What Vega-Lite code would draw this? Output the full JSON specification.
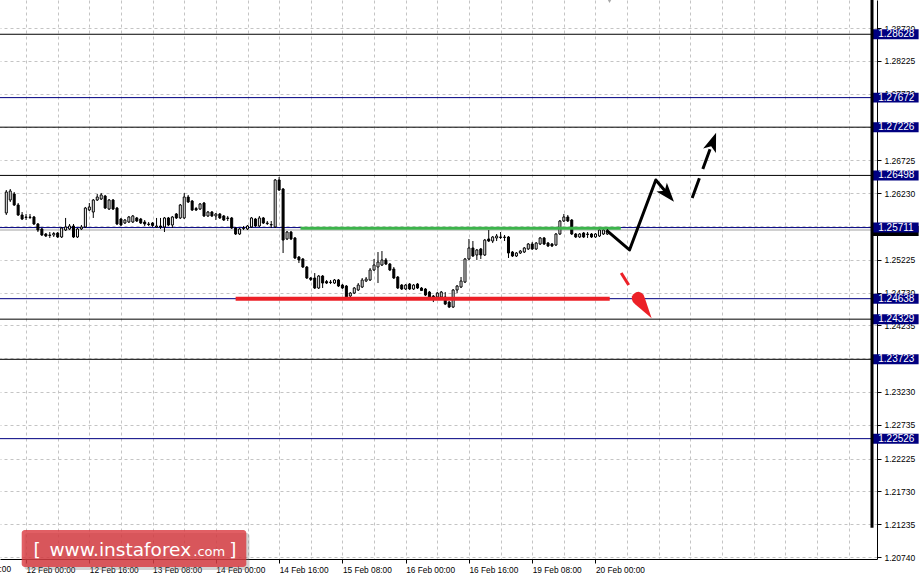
{
"$schema":"https://vega.github.io/schema/vega-lite/v6.json",
"width":877,"height":559,
"autosize":{"type":"none"},
"padding":{"left":0,"top":0,"right":45,"bottom":22},
"background":"white",
"config":{"view":{"stroke":null},"font":"Liberation Sans"},
"resolve":{"axis":{"x":"independent","y":"independent"}},
"datasets":{
"candles":[
{"i":0,"o":1.25931,"h":1.26278,"l":1.25901,"c":1.26248},
{"i":1,"o":1.26127,"h":1.26293,"l":1.26097,"c":1.26263},
{"i":2,"o":1.26218,"h":1.26248,"l":1.26037,"c":1.26052},
{"i":3,"o":1.26052,"h":1.26082,"l":1.25886,"c":1.25901},
{"i":4,"o":1.25901,"h":1.25946,"l":1.25825,"c":1.25840},
{"i":5,"o":1.25871,"h":1.25916,"l":1.25825,"c":1.25863},
{"i":6,"o":1.25863,"h":1.25916,"l":1.25840,"c":1.25871},
{"i":7,"o":1.25871,"h":1.25886,"l":1.25750,"c":1.25765},
{"i":8,"o":1.25765,"h":1.25780,"l":1.25644,"c":1.25674},
{"i":9,"o":1.25690,"h":1.25705,"l":1.25584,"c":1.25599},
{"i":10,"o":1.25614,"h":1.25629,"l":1.25569,"c":1.25584},
{"i":11,"o":1.25599,"h":1.25644,"l":1.25554,"c":1.25592},
{"i":12,"o":1.25599,"h":1.25644,"l":1.25569,"c":1.25622},
{"i":13,"o":1.25629,"h":1.25644,"l":1.25554,"c":1.25569},
{"i":14,"o":1.25569,"h":1.25720,"l":1.25554,"c":1.25705},
{"i":15,"o":1.25674,"h":1.25856,"l":1.25659,"c":1.25720},
{"i":16,"o":1.25690,"h":1.25765,"l":1.25674,"c":1.25735},
{"i":17,"o":1.25735,"h":1.25765,"l":1.25554,"c":1.25569},
{"i":18,"o":1.25569,"h":1.25705,"l":1.25554,"c":1.25690},
{"i":19,"o":1.25690,"h":1.25750,"l":1.25674,"c":1.25720},
{"i":20,"o":1.25720,"h":1.26022,"l":1.25705,"c":1.26006},
{"i":21,"o":1.25976,"h":1.26082,"l":1.25961,"c":1.26022},
{"i":22,"o":1.25946,"h":1.26142,"l":1.25856,"c":1.26127},
{"i":23,"o":1.26127,"h":1.26218,"l":1.26112,"c":1.26172},
{"i":24,"o":1.26142,"h":1.26233,"l":1.26127,"c":1.26203},
{"i":25,"o":1.26187,"h":1.26203,"l":1.25991,"c":1.26006},
{"i":26,"o":1.25991,"h":1.26142,"l":1.25976,"c":1.26127},
{"i":27,"o":1.26127,"h":1.26142,"l":1.25976,"c":1.25991},
{"i":28,"o":1.26006,"h":1.26022,"l":1.25750,"c":1.25765},
{"i":29,"o":1.25840,"h":1.25856,"l":1.25735,"c":1.25750},
{"i":30,"o":1.25780,"h":1.25840,"l":1.25765,"c":1.25825},
{"i":31,"o":1.25795,"h":1.25886,"l":1.25780,"c":1.25871},
{"i":32,"o":1.25795,"h":1.25901,"l":1.25780,"c":1.25886},
{"i":33,"o":1.25856,"h":1.25871,"l":1.25795,"c":1.25810},
{"i":34,"o":1.25840,"h":1.25856,"l":1.25765,"c":1.25780},
{"i":35,"o":1.25795,"h":1.25825,"l":1.25735,"c":1.25765},
{"i":36,"o":1.25765,"h":1.25795,"l":1.25735,"c":1.25757},
{"i":37,"o":1.25780,"h":1.25795,"l":1.25720,"c":1.25742},
{"i":38,"o":1.25720,"h":1.25856,"l":1.25705,"c":1.25735},
{"i":39,"o":1.25735,"h":1.25856,"l":1.25690,"c":1.25720},
{"i":40,"o":1.25720,"h":1.25871,"l":1.25644,"c":1.25856},
{"i":41,"o":1.25856,"h":1.25871,"l":1.25735,"c":1.25750},
{"i":42,"o":1.25750,"h":1.25886,"l":1.25705,"c":1.25871},
{"i":43,"o":1.25916,"h":1.25931,"l":1.25840,"c":1.25856},
{"i":44,"o":1.25856,"h":1.26067,"l":1.25840,"c":1.26052},
{"i":45,"o":1.25856,"h":1.26233,"l":1.25840,"c":1.26172},
{"i":46,"o":1.26172,"h":1.26203,"l":1.26082,"c":1.26097},
{"i":47,"o":1.26112,"h":1.26127,"l":1.25961,"c":1.25976},
{"i":48,"o":1.25999,"h":1.26022,"l":1.25961,"c":1.25976},
{"i":49,"o":1.25991,"h":1.26082,"l":1.25976,"c":1.26067},
{"i":50,"o":1.26082,"h":1.26097,"l":1.25871,"c":1.25886},
{"i":51,"o":1.25886,"h":1.25961,"l":1.25871,"c":1.25946},
{"i":52,"o":1.25946,"h":1.25961,"l":1.25871,"c":1.25886},
{"i":53,"o":1.25886,"h":1.25931,"l":1.25825,"c":1.25916},
{"i":54,"o":1.25916,"h":1.25931,"l":1.25840,"c":1.25856},
{"i":55,"o":1.25886,"h":1.25901,"l":1.25810,"c":1.25825},
{"i":56,"o":1.25856,"h":1.25886,"l":1.25810,"c":1.25848},
{"i":57,"o":1.25856,"h":1.25871,"l":1.25690,"c":1.25705},
{"i":58,"o":1.25705,"h":1.25720,"l":1.25599,"c":1.25614},
{"i":59,"o":1.25614,"h":1.25705,"l":1.25599,"c":1.25690},
{"i":60,"o":1.25697,"h":1.25735,"l":1.25674,"c":1.25705},
{"i":61,"o":1.25690,"h":1.25750,"l":1.25674,"c":1.25735},
{"i":62,"o":1.25720,"h":1.25871,"l":1.25705,"c":1.25856},
{"i":63,"o":1.25840,"h":1.25856,"l":1.25720,"c":1.25735},
{"i":64,"o":1.25735,"h":1.25886,"l":1.25720,"c":1.25856},
{"i":65,"o":1.25856,"h":1.25871,"l":1.25765,"c":1.25780},
{"i":66,"o":1.25780,"h":1.25810,"l":1.25750,"c":1.25772},
{"i":67,"o":1.25750,"h":1.25810,"l":1.25705,"c":1.25757},
{"i":68,"o":1.25720,"h":1.26444,"l":1.25705,"c":1.26429},
{"i":69,"o":1.26429,"h":1.26474,"l":1.26263,"c":1.26278},
{"i":70,"o":1.26293,"h":1.26308,"l":1.25327,"c":1.25523},
{"i":71,"o":1.25539,"h":1.25659,"l":1.25523,"c":1.25644},
{"i":72,"o":1.25644,"h":1.25659,"l":1.25523,"c":1.25539},
{"i":73,"o":1.25554,"h":1.25569,"l":1.25237,"c":1.25252},
{"i":74,"o":1.25267,"h":1.25282,"l":1.25176,"c":1.25222},
{"i":75,"o":1.25237,"h":1.25252,"l":1.25101,"c":1.25116},
{"i":76,"o":1.25116,"h":1.25131,"l":1.24935,"c":1.24950},
{"i":77,"o":1.24950,"h":1.24965,"l":1.24905,"c":1.24927},
{"i":78,"o":1.24950,"h":1.25025,"l":1.24784,"c":1.24799},
{"i":79,"o":1.24799,"h":1.24995,"l":1.24784,"c":1.24980},
{"i":80,"o":1.24980,"h":1.24995,"l":1.24799,"c":1.24874},
{"i":81,"o":1.24897,"h":1.24920,"l":1.24859,"c":1.24874},
{"i":82,"o":1.24889,"h":1.24920,"l":1.24859,"c":1.24882},
{"i":83,"o":1.24874,"h":1.24935,"l":1.24859,"c":1.24920},
{"i":84,"o":1.24920,"h":1.24935,"l":1.24814,"c":1.24829},
{"i":85,"o":1.24844,"h":1.24859,"l":1.24784,"c":1.24799},
{"i":86,"o":1.24829,"h":1.24844,"l":1.24648,"c":1.24663},
{"i":87,"o":1.24678,"h":1.24738,"l":1.24663,"c":1.24723},
{"i":88,"o":1.24723,"h":1.24814,"l":1.24708,"c":1.24799},
{"i":89,"o":1.24769,"h":1.24874,"l":1.24754,"c":1.24844},
{"i":90,"o":1.24814,"h":1.24950,"l":1.24799,"c":1.24920},
{"i":91,"o":1.24905,"h":1.24965,"l":1.24889,"c":1.24935},
{"i":92,"o":1.24920,"h":1.25101,"l":1.24905,"c":1.25071},
{"i":93,"o":1.25071,"h":1.25237,"l":1.25055,"c":1.25146},
{"i":94,"o":1.25116,"h":1.25342,"l":1.24874,"c":1.25191},
{"i":95,"o":1.25146,"h":1.25357,"l":1.25131,"c":1.25222},
{"i":96,"o":1.25222,"h":1.25252,"l":1.25146,"c":1.25161},
{"i":97,"o":1.25161,"h":1.25176,"l":1.25055,"c":1.25071},
{"i":98,"o":1.25086,"h":1.25116,"l":1.24935,"c":1.24950},
{"i":99,"o":1.24965,"h":1.24980,"l":1.24784,"c":1.24799},
{"i":100,"o":1.24844,"h":1.24859,"l":1.24769,"c":1.24784},
{"i":101,"o":1.24784,"h":1.24859,"l":1.24769,"c":1.24844},
{"i":102,"o":1.24859,"h":1.24874,"l":1.24769,"c":1.24784},
{"i":103,"o":1.24784,"h":1.24859,"l":1.24769,"c":1.24844},
{"i":104,"o":1.24859,"h":1.24874,"l":1.24784,"c":1.24799},
{"i":105,"o":1.24799,"h":1.24814,"l":1.24754,"c":1.24761},
{"i":106,"o":1.24784,"h":1.24799,"l":1.24678,"c":1.24693},
{"i":107,"o":1.24738,"h":1.24754,"l":1.24648,"c":1.24663},
{"i":108,"o":1.24678,"h":1.24693,"l":1.24587,"c":1.24655},
{"i":109,"o":1.24663,"h":1.24738,"l":1.24618,"c":1.24723},
{"i":110,"o":1.24663,"h":1.24754,"l":1.24633,"c":1.24738},
{"i":111,"o":1.24663,"h":1.24738,"l":1.24542,"c":1.24557},
{"i":112,"o":1.24587,"h":1.24603,"l":1.24497,"c":1.24512},
{"i":113,"o":1.24512,"h":1.24784,"l":1.24497,"c":1.24769},
{"i":114,"o":1.24769,"h":1.24844,"l":1.24723,"c":1.24829},
{"i":115,"o":1.24814,"h":1.24965,"l":1.24799,"c":1.24905},
{"i":116,"o":1.24889,"h":1.25252,"l":1.24874,"c":1.25237},
{"i":117,"o":1.25237,"h":1.25539,"l":1.25222,"c":1.25403},
{"i":118,"o":1.25403,"h":1.25508,"l":1.25267,"c":1.25282},
{"i":119,"o":1.25297,"h":1.25388,"l":1.25222,"c":1.25373},
{"i":120,"o":1.25388,"h":1.25403,"l":1.25237,"c":1.25297},
{"i":121,"o":1.25297,"h":1.25539,"l":1.25282,"c":1.25523},
{"i":122,"o":1.25539,"h":1.25674,"l":1.25493,"c":1.25508},
{"i":123,"o":1.25508,"h":1.25584,"l":1.25478,"c":1.25569},
{"i":124,"o":1.25554,"h":1.25614,"l":1.25508,"c":1.25584},
{"i":125,"o":1.25569,"h":1.25644,"l":1.25539,"c":1.25561},
{"i":126,"o":1.25561,"h":1.25599,"l":1.25508,"c":1.25569},
{"i":127,"o":1.25569,"h":1.25584,"l":1.25252,"c":1.25327},
{"i":128,"o":1.25342,"h":1.25357,"l":1.25267,"c":1.25282},
{"i":129,"o":1.25282,"h":1.25342,"l":1.25267,"c":1.25327},
{"i":130,"o":1.25327,"h":1.25373,"l":1.25312,"c":1.25357},
{"i":131,"o":1.25342,"h":1.25418,"l":1.25327,"c":1.25403},
{"i":132,"o":1.25388,"h":1.25478,"l":1.25373,"c":1.25463},
{"i":133,"o":1.25463,"h":1.25493,"l":1.25373,"c":1.25388},
{"i":134,"o":1.25388,"h":1.25493,"l":1.25373,"c":1.25478},
{"i":135,"o":1.25463,"h":1.25569,"l":1.25448,"c":1.25554},
{"i":136,"o":1.25554,"h":1.25569,"l":1.25448,"c":1.25463},
{"i":137,"o":1.25478,"h":1.25493,"l":1.25418,"c":1.25433},
{"i":138,"o":1.25463,"h":1.25478,"l":1.25418,"c":1.25433},
{"i":139,"o":1.25448,"h":1.25629,"l":1.25433,"c":1.25614},
{"i":140,"o":1.25614,"h":1.25825,"l":1.25599,"c":1.25810},
{"i":141,"o":1.25810,"h":1.25916,"l":1.25795,"c":1.25871},
{"i":142,"o":1.25871,"h":1.25901,"l":1.25795,"c":1.25810},
{"i":143,"o":1.25825,"h":1.25840,"l":1.25599,"c":1.25614},
{"i":144,"o":1.25614,"h":1.25629,"l":1.25554,"c":1.25569},
{"i":145,"o":1.25569,"h":1.25629,"l":1.25554,"c":1.25614},
{"i":146,"o":1.25629,"h":1.25644,"l":1.25554,"c":1.25569},
{"i":147,"o":1.25614,"h":1.25644,"l":1.25554,"c":1.25607},
{"i":148,"o":1.25614,"h":1.25629,"l":1.25554,"c":1.25569},
{"i":149,"o":1.25569,"h":1.25629,"l":1.25554,"c":1.25614},
{"i":150,"o":1.25584,"h":1.25690,"l":1.25569,"c":1.25674},
{"i":151,"o":1.25614,"h":1.25690,"l":1.25599,"c":1.25674},
{"i":152,"o":1.25614,"h":1.25690,"l":1.25599,"c":1.25659}
],
"levels":[{"p":1.28628},{"p":1.27672},{"p":1.27226},{"p":1.26498},{"p":1.25711},{"p":1.24638},{"p":1.24329},{"p":1.23723},{"p":1.22526}]
},
"layer":[
{"data":{"values":[{"p":1.27672},{"p":1.25711},{"p":1.24638},{"p":1.22526}]},
 "mark":{"type":"rule","color":"#000080","strokeWidth":1},
 "encoding":{"y":{"field":"p","type":"quantitative","scale":{"domain":[1.2071,1.29145],"nice":false,"zero":false},
   "axis":{"orient":"right","values":[1.2872,1.28225,1.2773,1.27235,1.26725,1.2623,1.25735,1.25225,1.2473,1.24235,1.2374,1.2323,1.22735,1.22225,1.2173,1.21235,1.2074],
   "labelExpr":"(abs(datum.value-1.27235)<0.000001 || abs(datum.value-1.25735)<0.000001 || abs(datum.value-1.2374)<0.000001) ? '' : format(datum.value, '.5f')",
   "grid":true,"gridColor":"#c4c4c4","gridDash":[3,3],"gridWidth":1,"domainColor":"black","domainWidth":1,"tickColor":"black","tickSize":4,
   "labelPadding":3,"labelFont":"Liberation Sans","labelFontSize":8.5,"labelColor":"black","labelOverlap":false,"labelFlush":false,"title":null}}}},
{"data":{"values":[{"p":1.28628},{"p":1.27226},{"p":1.26498},{"p":1.24329},{"p":1.23723}]},
 "mark":{"type":"rule","color":"#000000","strokeWidth":1},
 "encoding":{"y":{"field":"p","type":"quantitative","scale":{"domain":[1.2071,1.29145],"nice":false,"zero":false},"axis":null}}},
{"data":{"values":[{"p":1.25674}]},
 "mark":{"type":"rule","color":"#c0c0c0","strokeWidth":1.5},
 "encoding":{"y":{"field":"p","type":"quantitative","scale":{"domain":[1.2071,1.29145],"nice":false,"zero":false},"axis":null}}},
{"data":{"name":"candles"},
 "mark":{"type":"rule","color":"black","strokeWidth":1},
 "encoding":{
  "x":{"field":"i","type":"quantitative","scale":{"domain":[-0.325,218.925],"nice":false,"zero":false},
   "axis":{"values":[5,13,21,29,37,45,53,61,69,77,85,93,101,109,117,125,133,141,149,157,165,173,181,189,197,205,213],
    "labelExpr":"datum.value==5?'12 Feb 00:00':datum.value==21?'12 Feb 16:00':datum.value==37?'13 Feb 08:00':datum.value==53?'14 Feb 00:00':datum.value==69?'14 Feb 16:00':datum.value==85?'15 Feb 08:00':datum.value==101?'16 Feb 00:00':datum.value==117?'16 Feb 16:00':datum.value==133?'19 Feb 08:00':datum.value==149?'20 Feb 00:00':''",
    "grid":true,"gridColor":"#c4c4c4","gridDash":[3,3],"gridWidth":1,"domainColor":"black","domainWidth":1,"tickColor":"black","tickSize":4,
    "tickOpacity":{"condition":{"test":"(datum.value - 5) % 16 == 0 && datum.value < 160","value":1},"value":0},
    "labelAlign":"left","labelBaseline":"top","labelPadding":2,"labelFlush":false,"labelOverlap":false,"labelBound":false,
    "labelFont":"Liberation Sans","labelFontSize":8.3,"labelColor":"black","title":null}},
  "y":{"field":"h","type":"quantitative","scale":{"domain":[1.2071,1.29145],"nice":false,"zero":false},"axis":null},
  "y2":{"field":"l"}}},
{"data":{"name":"candles"},
 "mark":{"type":"bar","width":2,"stroke":"black","strokeWidth":1},
 "encoding":{
  "x":{"field":"i","type":"quantitative","scale":{"domain":[-0.325,218.925],"nice":false,"zero":false},"axis":null},
  "y":{"field":"o","type":"quantitative","scale":{"domain":[1.2071,1.29145],"nice":false,"zero":false},"axis":null},
  "y2":{"field":"c"},
  "fill":{"condition":{"test":"datum.c > datum.o","value":"white"},"value":"black"}}},
{"data":{"values":[{"a":74.4,"b":155.4,"p":1.257}]},
 "mark":{"type":"rule","color":"#3cb44b","strokeWidth":3},
 "encoding":{"x":{"field":"a","type":"quantitative","scale":{"domain":[-0.325,218.925],"nice":false,"zero":false},"axis":null},"x2":{"field":"b"},
  "y":{"field":"p","type":"quantitative","scale":{"domain":[1.2071,1.29145],"nice":false,"zero":false},"axis":null}}},
{"data":{"values":[{"a":58.0,"b":152.6,"p":1.24638}]},
 "mark":{"type":"rule","color":"#ec2027","strokeWidth":4},
 "encoding":{"x":{"field":"a","type":"quantitative","scale":{"domain":[-0.325,218.925],"nice":false,"zero":false},"axis":null},"x2":{"field":"b"},
  "y":{"field":"p","type":"quantitative","scale":{"domain":[1.2071,1.29145],"nice":false,"zero":false},"axis":null}}},
{"data":{"values":[{"n":1,"x":151.75,"y":1.25674},{"n":2,"x":157.6,"y":1.25373},{"n":3,"x":164.25,"y":1.26429},{"n":4,"x":167.9,"y":1.26171}]},
 "mark":{"type":"line","color":"black","strokeWidth":3,"strokeJoin":"round"},
 "encoding":{"x":{"field":"x","type":"quantitative","scale":{"domain":[-0.325,218.925],"nice":false,"zero":false},"axis":null},
  "y":{"field":"y","type":"quantitative","scale":{"domain":[1.2071,1.29145],"nice":false,"zero":false},"axis":null},
  "order":{"field":"n"}}},
{"data":{"values":[{"n":1,"x":173.45,"y":1.26157},{"n":2,"x":178.97,"y":1.27058}]},
 "mark":{"type":"line","color":"black","strokeWidth":3,"strokeDash":[21,10]},
 "encoding":{"x":{"field":"x","type":"quantitative","scale":{"domain":[-0.325,218.925],"nice":false,"zero":false},"axis":null},
  "y":{"field":"y","type":"quantitative","scale":{"domain":[1.2071,1.29145],"nice":false,"zero":false},"axis":null},
  "order":{"field":"n"}}},
{"data":{"values":[{"n":1,"x":155.5,"y":1.25025},{"n":2,"x":157.4,"y":1.24844}]},
 "mark":{"type":"line","color":"#ec2027","strokeWidth":3},
 "encoding":{"x":{"field":"x","type":"quantitative","scale":{"domain":[-0.325,218.925],"nice":false,"zero":false},"axis":null},
  "y":{"field":"y","type":"quantitative","scale":{"domain":[1.2071,1.29145],"nice":false,"zero":false},"axis":null},
  "order":{"field":"n"}}},
{"data":{"values":[{"x":168.85,"y":1.26101}]},
 "mark":{"type":"point","shape":"M0,0L0.85,2.4L0,1.8L-0.85,2.4Z","size":256,"filled":true,"color":"black","opacity":1,"angle":140},
 "encoding":{"x":{"field":"x","type":"quantitative","scale":{"domain":[-0.325,218.925],"nice":false,"zero":false},"axis":null},
  "y":{"field":"y","type":"quantitative","scale":{"domain":[1.2071,1.29145],"nice":false,"zero":false},"axis":null}}},
{"data":{"values":[{"x":179.5,"y":1.27142}]},
 "mark":{"type":"point","shape":"M0,0L0.85,2.4L0,1.8L-0.85,2.4Z","size":256,"filled":true,"color":"black","opacity":1,"angle":20},
 "encoding":{"x":{"field":"x","type":"quantitative","scale":{"domain":[-0.325,218.925],"nice":false,"zero":false},"axis":null},
  "y":{"field":"y","type":"quantitative","scale":{"domain":[1.2071,1.29145],"nice":false,"zero":false},"axis":null}}},
{"data":{"values":[{"x":163.2,"y":1.24342}]},
 "mark":{"type":"point","shape":"M0,0L0.72,2.62L0.8,3L0.72,3.38L0.5,3.65L0.2,3.78L-0.2,3.78L-0.5,3.65L-0.72,3.38L-0.8,3L-0.72,2.62Z","size":256,"filled":true,"color":"#ec2027","opacity":1,"angle":146},
 "encoding":{"x":{"field":"x","type":"quantitative","scale":{"domain":[-0.325,218.925],"nice":false,"zero":false},"axis":null},
  "y":{"field":"y","type":"quantitative","scale":{"domain":[1.2071,1.29145],"nice":false,"zero":false},"axis":null}}},
{"data":{"values":[{"x":152.55,"y":1.2916}]},
 "mark":{"type":"point","shape":"triangle-down","size":80,"filled":true,"color":"#a8a8a8","opacity":1},
 "encoding":{"x":{"field":"x","type":"quantitative","scale":{"domain":[-0.325,218.925],"nice":false,"zero":false},"axis":null},
  "y":{"field":"y","type":"quantitative","scale":{"domain":[1.2071,1.29145],"nice":false,"zero":false},"axis":null}}},
{"data":{"values":[{"p":1.25659}]},
 "mark":{"type":"point","shape":"M-1,-0.217H1V0.217H-1Z","size":2116,"filled":true,"color":"black","opacity":1},
 "encoding":{"x":{"datum":224.9,"type":"quantitative","scale":{"domain":[-0.325,218.925],"nice":false,"zero":false},"axis":null},
  "y":{"field":"p","type":"quantitative","scale":{"domain":[1.2071,1.29145],"nice":false,"zero":false},"axis":null}}},
{"data":{"name":"levels"},
 "mark":{"type":"point","shape":"M-1,-0.217H1V0.217H-1Z","size":2116,"filled":true,"color":"#000080","opacity":1},
 "encoding":{"x":{"datum":224.9,"type":"quantitative","scale":{"domain":[-0.325,218.925],"nice":false,"zero":false},"axis":null},
  "y":{"field":"p","type":"quantitative","scale":{"domain":[1.2071,1.29145],"nice":false,"zero":false},"axis":null}}},
{"data":{"name":"levels"},
 "mark":{"type":"text","align":"left","baseline":"middle","font":"Liberation Sans","fontSize":10,"color":"white"},
 "encoding":{"x":{"datum":220.5,"type":"quantitative","scale":{"domain":[-0.325,218.925],"nice":false,"zero":false},"axis":null},
  "y":{"field":"p","type":"quantitative","scale":{"domain":[1.2071,1.29145],"nice":false,"zero":false},"axis":null},
  "text":{"field":"p","type":"quantitative","format":".5f"}}},
{"data":{"values":[{"t":"9 Feb 08:00"}]},
 "mark":{"type":"text","align":"left","baseline":"top","font":"Liberation Sans","fontSize":8.3,"color":"black","dx":4},
 "encoding":{"x":{"datum":-11,"type":"quantitative","scale":{"domain":[-0.325,218.925],"nice":false,"zero":false},"axis":null},
  "y":{"datum":1.20619,"type":"quantitative","scale":{"domain":[1.2071,1.29145],"nice":false,"zero":false},"axis":null},
  "text":{"field":"t"}}},
{"data":{"values":[{"k":"thick"}]},
 "mark":{"type":"rule","color":"black","strokeWidth":3},
 "encoding":{"x":{"datum":218.925,"type":"quantitative","scale":{"domain":[-0.325,218.925],"nice":false,"zero":false},"axis":null},
  "y":{"datum":1.2118,"type":"quantitative","scale":{"domain":[1.2071,1.29145],"nice":false,"zero":false},"axis":null},
  "y2":{"datum":1.29145}}},
{"data":{"values":[{"k":"shadow"}]},
 "mark":{"type":"rect","color":"#808080","opacity":0.35,"cornerRadius":3},
 "encoding":{"x":{"datum":4.6,"type":"quantitative","scale":{"domain":[-0.325,218.925],"nice":false,"zero":false},"axis":null},"x2":{"datum":61.5},
  "y":{"datum":1.21102,"type":"quantitative","scale":{"domain":[1.2071,1.29145],"nice":false,"zero":false},"axis":null},"y2":{"datum":1.20544}}},
{"data":{"values":[{"k":"logo"}]},
 "mark":{"type":"rect","color":"#d9373d","opacity":0.8,"cornerRadius":3},
 "encoding":{"x":{"datum":3.9,"type":"quantitative","scale":{"domain":[-0.325,218.925],"nice":false,"zero":false},"axis":null},"x2":{"datum":60.7},
  "y":{"datum":1.21147,"type":"quantitative","scale":{"domain":[1.2071,1.29145],"nice":false,"zero":false},"axis":null},"y2":{"datum":1.20589}}},
{"data":{"values":[{"t":"[","x":6.9},{"t":"www.instaforex","x":10.9},{"t":"]","x":56.4}]},
 "mark":{"type":"text","align":"left","baseline":"alphabetic","font":"DejaVu Sans","fontSize":18.5,"color":"white"},
 "encoding":{"x":{"field":"x","type":"quantitative","scale":{"domain":[-0.325,218.925],"nice":false,"zero":false},"axis":null},
  "y":{"datum":1.20762,"type":"quantitative","scale":{"domain":[1.2071,1.29145],"nice":false,"zero":false},"axis":null},
  "text":{"field":"t"}}},
{"data":{"values":[{"t":".com","x":47.3}]},
 "mark":{"type":"text","align":"left","baseline":"alphabetic","font":"DejaVu Sans","fontSize":13,"color":"white"},
 "encoding":{"x":{"field":"x","type":"quantitative","scale":{"domain":[-0.325,218.925],"nice":false,"zero":false},"axis":null},
  "y":{"datum":1.20762,"type":"quantitative","scale":{"domain":[1.2071,1.29145],"nice":false,"zero":false},"axis":null},
  "text":{"field":"t"}}}
]
}
